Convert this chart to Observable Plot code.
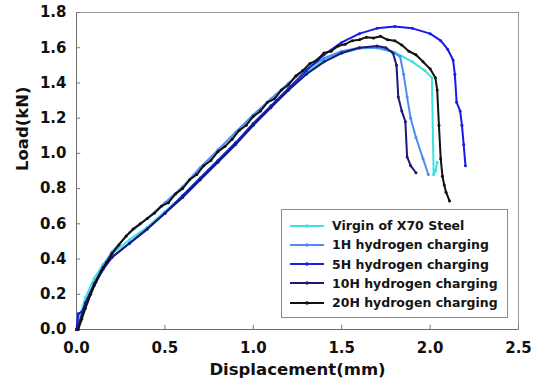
<!DOCTYPE html>
<html><head><meta charset="utf-8">
<script src="https://cdn.jsdelivr.net/npm/d3@7"></script>
<script src="https://cdn.jsdelivr.net/npm/@observablehq/plot@0.6"></script>
<style>
body{margin:0;background:#fff;font-family:"DejaVu Sans",sans-serif;}
#wrap{position:relative;width:538px;height:387px;overflow:hidden;}
#legend{position:absolute;left:281px;top:209px;width:227px;height:109px;border:1px solid #8a8a8a;background:#fff;box-sizing:border-box;}
.row{position:absolute;left:8px;height:19px;display:flex;align-items:center;font-weight:bold;font-size:12.5px;color:#151515;white-space:nowrap;}
.row svg{margin-right:8px;}
</style></head><body><div id="wrap"></div>
<script>
const seriesNames = ["Virgin of X70 Steel","1H hydrogen charging","5H hydrogen charging","10H hydrogen charging","20H hydrogen charging"];
const seriesColors = ["#3fe0e0","#4f8cf0","#1a1ae8","#1a1a7a","#111111"];

const xTicks = [0,0.5,1.0,1.5,2.0,2.5];
const yTicks = [0,0.2,0.4,0.6,0.8,1.0,1.2,1.4,1.6,1.8];

const virginD = [0,0.02,0.05,0.1,0.15,0.2,0.3,0.4,0.5,0.6,0.7,0.8,0.9,1.0,1.1,1.2,1.3,1.4,1.5,1.6,1.7,1.8,1.9,1.97,2.01,2.02,2.03,2.04];
const virginL = [0,0.08,0.18,0.29,0.37,0.43,0.51,0.58,0.67,0.76,0.86,0.96,1.06,1.17,1.27,1.37,1.46,1.53,1.57,1.595,1.6,1.575,1.52,1.47,1.43,0.88,0.9,0.95];

const h1D = [0,0.03,0.06,0.1,0.15,0.2,0.3,0.4,0.5,0.6,0.7,0.8,0.9,1.0,1.1,1.2,1.3,1.4,1.5,1.6,1.7,1.78,1.83,1.85,1.87,1.89,1.92,1.96,1.99];
const h1L = [0,0.08,0.16,0.26,0.36,0.44,0.55,0.63,0.72,0.81,0.92,1.02,1.12,1.22,1.31,1.40,1.48,1.54,1.58,1.60,1.60,1.58,1.55,1.45,1.32,1.2,1.09,0.97,0.88];

const h5D = [0,0.01,0.03,0.06,0.1,0.15,0.2,0.3,0.4,0.5,0.6,0.7,0.8,0.9,1.0,1.1,1.2,1.3,1.4,1.5,1.6,1.7,1.8,1.9,2.0,2.06,2.1,2.13,2.14,2.15,2.17,2.18,2.19,2.2];
const h5L = [0,0.09,0.1,0.16,0.25,0.34,0.41,0.49,0.57,0.66,0.76,0.86,0.96,1.06,1.17,1.27,1.37,1.47,1.56,1.63,1.68,1.71,1.72,1.71,1.68,1.64,1.59,1.53,1.45,1.29,1.24,1.16,1.05,0.93];

const h10D = [0,0.02,0.05,0.1,0.15,0.2,0.3,0.4,0.5,0.6,0.7,0.8,0.9,1.0,1.1,1.2,1.3,1.4,1.5,1.6,1.7,1.75,1.79,1.81,1.82,1.84,1.86,1.87,1.89,1.92];
const h10L = [0,0.05,0.15,0.26,0.35,0.41,0.49,0.57,0.66,0.75,0.85,0.95,1.05,1.16,1.26,1.36,1.45,1.52,1.57,1.6,1.61,1.6,1.57,1.5,1.32,1.24,1.18,0.98,0.93,0.89];

const h20D = [0.01,0.03,0.05,0.08,0.11,0.14,0.17,0.2,0.24,0.28,0.32,0.36,0.40,0.44,0.48,0.52,0.56,0.60,0.64,0.68,0.72,0.76,0.80,0.84,0.88,0.92,0.96,1.00,1.04,1.08,1.12,1.16,1.20,1.24,1.28,1.32,1.36,1.40,1.44,1.48,1.52,1.56,1.60,1.64,1.68,1.72,1.76,1.80,1.84,1.88,1.92,1.96,2.00,2.03,2.04,2.05,2.06,2.07,2.08,2.09,2.11];
const h20L = [0,0.06,0.12,0.2,0.27,0.33,0.38,0.43,0.48,0.53,0.57,0.6,0.63,0.66,0.7,0.72,0.77,0.80,0.85,0.88,0.93,0.96,1.01,1.04,1.08,1.13,1.16,1.21,1.24,1.29,1.31,1.36,1.39,1.44,1.47,1.51,1.53,1.57,1.58,1.61,1.62,1.64,1.645,1.66,1.655,1.665,1.645,1.64,1.615,1.58,1.56,1.52,1.48,1.43,1.36,1.16,0.97,0.87,0.82,0.78,0.73];

const allD = [virginD,h1D,h5D,h10D,h20D];
const allL = [virginL,h1L,h5L,h10L,h20L];
const tables = allD.map((ds,i)=>ds.map((d,j)=>({d, L: allL[i][j]})));

const seriesMarks = [];
tables.forEach((t,i)=>{
  seriesMarks.push(Plot.line(t,{x:"d",y:"L",stroke:seriesColors[i],strokeWidth:2}));
  seriesMarks.push(Plot.dot(t,{x:"d",y:"L",fill:seriesColors[i],r:1.5}));
});

const fmt = d3.format(".1f");
const chart = Plot.plot({
  width:538, height:387,
  marginLeft:76, marginRight:20, marginTop:12, marginBottom:58,
  style:{fontFamily:"'DejaVu Sans',sans-serif",fontSize:"15px",fontWeight:"bold",color:"#111",background:"#fff"},
  x:{domain:[0,2.5]},
  y:{domain:[0,1.8]},
  marks:[
    Plot.frame({stroke:"#999"}),
    Plot.ruleX(xTicks,{y1:0,y2:0.024,stroke:"#777"}),
    Plot.ruleY(yTicks,{x1:0,x2:0.024,stroke:"#777"}),
    Plot.ruleX([0],{stroke:"#6e6e6e"}),
    Plot.ruleY([0],{stroke:"#6e6e6e"}),
    Plot.axisX({ticks:xTicks,tickFormat:fmt,tickSize:0,tickPadding:13,label:null,fontSize:15,fontWeight:"bold"}),
    Plot.axisY({ticks:yTicks,tickFormat:fmt,tickSize:0,tickPadding:10,label:null,fontSize:15,fontWeight:"bold"}),
    Plot.text(["Displacement(mm)"],{frameAnchor:"bottom",dy:45,fontSize:16.5,fontWeight:"bold",fill:"#111"}),
    Plot.text(["Load(kN)"],{frameAnchor:"left",dx:-54,rotate:-90,fontSize:16.5,fontWeight:"bold",fill:"#111"}),
    ...seriesMarks
  ]
});
const wrap = document.getElementById("wrap");
wrap.appendChild(chart);

const legend = document.createElement("div");
legend.id = "legend";
seriesNames.forEach((name,i)=>{
  const row = document.createElement("div");
  row.className = "row";
  row.style.top = (6 + i*19.3) + "px";
  row.innerHTML = `<svg width="34" height="8"><line x1="0" y1="4" x2="34" y2="4" stroke="${seriesColors[i]}" stroke-width="2"/><circle cx="17" cy="4" r="1.8" fill="${seriesColors[i]}"/></svg><span>${name}</span>`;
  legend.appendChild(row);
});
wrap.appendChild(legend);
</script></body></html>
